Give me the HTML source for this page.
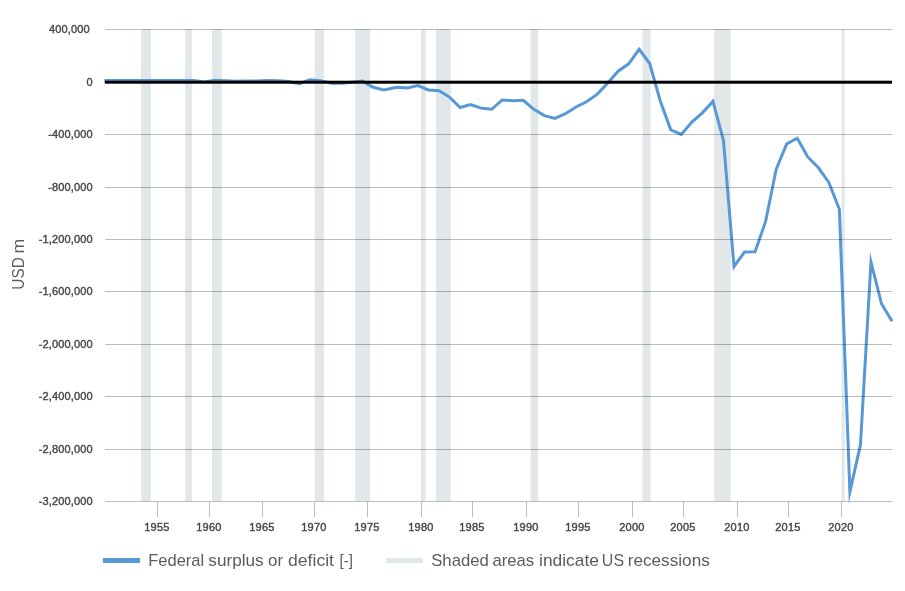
<!DOCTYPE html>
<html><head><meta charset="utf-8"><style>
html,body{margin:0;padding:0;background:#fff;width:905px;height:591px;overflow:hidden}
svg{display:block;will-change:transform}
text{font-family:"Liberation Sans",sans-serif}
.yl text{text-anchor:end}
.xl text{text-anchor:middle}
</style></head><body>
<svg width="905" height="591" viewBox="0 0 905 591">
<rect width="905" height="591" fill="#fff"/>
<g fill="#e2e7ea"><rect x="141.10" y="29.00" width="9.75" height="472.00"/><rect x="185.05" y="29.00" width="6.85" height="472.00"/><rect x="212.00" y="29.00" width="9.70" height="472.00"/><rect x="314.70" y="29.00" width="9.50" height="472.00"/><rect x="355.20" y="29.00" width="14.80" height="472.00"/><rect x="420.95" y="29.00" width="4.70" height="472.00"/><rect x="435.80" y="29.00" width="15.00" height="472.00"/><rect x="530.50" y="29.00" width="7.80" height="472.00"/><rect x="642.45" y="29.00" width="8.15" height="472.00"/><rect x="714.20" y="29.00" width="16.50" height="472.00"/><rect x="841.60" y="29.00" width="3.00" height="472.00"/></g>
<g fill="rgba(0,0,0,0.26)" shape-rendering="crispEdges"><rect x="157" y="502" width="1" height="15"/><rect x="209" y="502" width="1" height="15"/><rect x="262" y="502" width="1" height="15"/><rect x="314" y="502" width="1" height="15"/><rect x="367" y="502" width="1" height="15"/><rect x="421" y="502" width="1" height="15"/><rect x="472" y="502" width="1" height="15"/><rect x="526" y="502" width="1" height="15"/><rect x="578" y="502" width="1" height="15"/><rect x="632" y="502" width="1" height="15"/><rect x="683" y="502" width="1" height="15"/><rect x="737" y="502" width="1" height="15"/><rect x="788" y="502" width="1" height="15"/><rect x="841" y="502" width="1" height="15"/></g>
<polyline fill="none" stroke="#5898d5" stroke-width="3" stroke-linejoin="miter" stroke-miterlimit="40" points="104.48,80.56 109.75,80.56 120.28,80.56 130.82,80.56 141.36,80.56 151.89,80.56 162.43,80.56 172.96,80.56 183.50,80.56 194.04,80.56 204.57,81.98 215.11,80.26 225.64,80.74 236.18,81.24 246.72,80.92 257.25,81.08 267.79,80.48 278.32,80.78 288.86,81.43 299.40,83.60 309.93,79.87 320.47,80.67 331.00,83.32 341.54,83.36 352.08,82.25 362.61,81.10 373.15,87.28 383.68,89.97 396.85,87.33 407.39,88.06 417.93,85.64 428.46,89.98 439.00,90.65 449.53,97.08 460.07,107.54 470.61,104.60 481.14,108.13 491.68,109.30 502.21,99.93 512.75,100.64 523.29,100.31 533.82,109.28 544.36,115.60 554.89,118.36 565.43,113.74 575.97,106.94 586.50,101.79 597.04,94.38 607.57,83.17 618.11,71.22 628.65,63.83 639.18,49.33 649.72,63.49 660.25,100.98 670.79,129.80 681.33,134.41 691.86,122.04 702.40,112.84 712.93,101.37 723.47,140.42 734.01,266.50 744.54,251.99 755.08,251.68 765.61,221.44 776.15,169.42 786.69,143.83 797.22,138.24 807.76,156.95 818.29,167.54 828.83,182.44 839.37,209.25 849.90,491.69 860.44,444.94 870.97,261.98 881.51,303.75 892.05,321.28"/>
<g fill="rgba(0,0,0,0.26)" shape-rendering="crispEdges"><rect x="104.80" y="29" width="787.20" height="1"/><rect x="104.80" y="134" width="787.20" height="1"/><rect x="104.80" y="187" width="787.20" height="1"/><rect x="104.80" y="239" width="787.20" height="1"/><rect x="104.80" y="291" width="787.20" height="1"/><rect x="104.80" y="344" width="787.20" height="1"/><rect x="104.80" y="396" width="787.20" height="1"/><rect x="104.80" y="449" width="787.20" height="1"/><rect x="104.80" y="501" width="787.20" height="1"/></g>
<rect x="104.8" y="80.7" width="787.20" height="3" fill="#000"/>
<g class="yl" font-size="11" fill="#474747" stroke="#474747" stroke-width="0.4" letter-spacing="0.15"><text x="89.80" y="32.60">400,000</text><text x="92.90" y="85.60">0</text><text x="92.90" y="137.60">-400,000</text><text x="92.90" y="190.60">-800,000</text><text x="92.90" y="242.60">-1,200,000</text><text x="92.90" y="294.60">-1,600,000</text><text x="92.90" y="347.60">-2,000,000</text><text x="92.90" y="399.60">-2,400,000</text><text x="92.90" y="452.60">-2,800,000</text><text x="92.90" y="504.60">-3,200,000</text></g>
<g class="xl" font-size="11" fill="#474747" stroke="#474747" stroke-width="0.4" letter-spacing="0.2"><text x="156.90" y="530.80">1955</text><text x="208.90" y="530.80">1960</text><text x="261.90" y="530.80">1965</text><text x="313.90" y="530.80">1970</text><text x="366.90" y="530.80">1975</text><text x="420.90" y="530.80">1980</text><text x="471.90" y="530.80">1985</text><text x="525.90" y="530.80">1990</text><text x="577.90" y="530.80">1995</text><text x="631.90" y="530.80">2000</text><text x="682.90" y="530.80">2005</text><text x="736.90" y="530.80">2010</text><text x="787.90" y="530.80">2015</text><text x="840.90" y="530.80">2020</text></g>
<g transform="translate(23.7,300) rotate(-90)" font-size="17" fill="#5c5c5c"><text x="10.32" textLength="32.42" lengthAdjust="spacingAndGlyphs">USD</text><text x="46.63" textLength="14.62" lengthAdjust="spacingAndGlyphs">m</text></g>
<rect x="103" y="558" width="37" height="5" fill="#5898d5"/>
<g font-size="17" fill="#5c5c5c"><text y="566.1" x="148.25" textLength="55.96" lengthAdjust="spacingAndGlyphs">Federal</text><text y="566.1" x="208.32" textLength="55.40" lengthAdjust="spacingAndGlyphs">surplus</text><text y="566.1" x="268.09" textLength="14.99" lengthAdjust="spacingAndGlyphs">or</text><text y="566.1" x="287.96" textLength="46.07" lengthAdjust="spacingAndGlyphs">deficit</text><text y="566.1" x="339.52" textLength="13.46" lengthAdjust="spacingAndGlyphs">[-]</text><text y="566.1" x="431.24" textLength="57.53" lengthAdjust="spacingAndGlyphs">Shaded</text><text y="566.1" x="492.59" textLength="41.61" lengthAdjust="spacingAndGlyphs">areas</text><text y="566.1" x="539.04" textLength="59.94" lengthAdjust="spacingAndGlyphs">indicate</text><text y="566.1" x="601.87" textLength="22.16" lengthAdjust="spacingAndGlyphs">US</text><text y="566.1" x="627.66" textLength="82.16" lengthAdjust="spacingAndGlyphs">recessions</text></g>
<rect x="386" y="558" width="37" height="5" fill="#e2e7ea"/>

</svg>
</body></html>
